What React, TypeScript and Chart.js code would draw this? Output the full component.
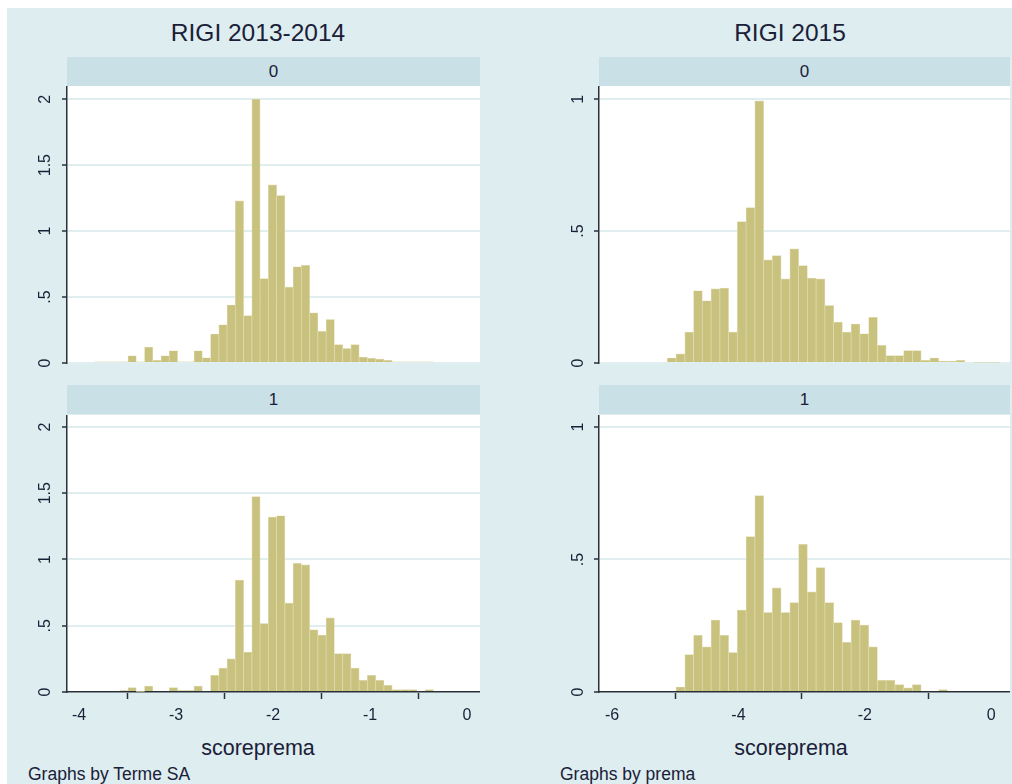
import React, { useEffect, useRef } from "react";
import { Chart, registerables } from "chart.js";

Chart.register(...registerables);

// ---------- data ----------
const panelTitles = ["RIGI 2013-2014", "RIGI 2015"];
const stripLabels = ["0", "1"];
const axisTitle = "scoreprema";
const notes = ["Graphs by Terme SA", "Graphs by prema"];

// RIGI 2013-2014 histogram bins (density)
const leftBinStart = -3.835;
const leftBinWidth = 0.0851;
const rigiA_prema0 = [
  0.008, 0.008, 0.008, 0.008, 0.055, 0.008, 0.12, 0.02, 0.055, 0.093, 0.008,
  0.008, 0.093, 0.04, 0.22, 0.29, 0.44, 1.23, 0.36, 2.0, 0.64, 1.35, 1.27,
  0.575, 0.73, 0.74, 0.38, 0.24, 0.33, 0.14, 0.11, 0.14, 0.045, 0.035, 0.03,
  0.02, 0.008, 0.008, 0.008, 0.008, 0.008,
];
const rigiA_prema1 = [
  0, 0, 0, 0.01, 0.033, 0.005, 0.044, 0, 0, 0.033, 0.01, 0.01, 0.044, 0,
  0.126, 0.18, 0.25, 0.845, 0.3, 1.475, 0.517, 1.32, 1.33, 0.67, 0.97, 0.96,
  0.47, 0.43, 0.56, 0.29, 0.29, 0.18, 0.088, 0.126, 0.088, 0.05, 0.018, 0.018,
  0.018, 0, 0.018,
];

// RIGI 2015 histogram bins (density)
const rightBinStart = -5.125;
const rightBinWidth = 0.1385;
const rigiB_prema0 = [
  0.019, 0.035, 0.117, 0.274, 0.236, 0.281, 0.284, 0.117, 0.536, 0.589, 0.994,
  0.391, 0.407, 0.319, 0.433, 0.369, 0.322, 0.319, 0.218, 0.155, 0.117, 0.148,
  0.111, 0.173, 0.067, 0.028, 0.028, 0.047, 0.047, 0.01, 0.019, 0.006, 0.006,
  0.01, 0, 0.003, 0.003, 0.003,
];
const rigiB_prema1 = [
  0, 0.019, 0.141, 0.214, 0.17, 0.271, 0.214, 0.149, 0.309, 0.586, 0.741, 0.3,
  0.393, 0.3, 0.337, 0.557, 0.378, 0.469, 0.337, 0.262, 0.187, 0.271, 0.252,
  0.17, 0.044, 0.044, 0.028, 0.016, 0.028, 0, 0, 0.009, 0, 0, 0, 0, 0, 0,
];

const leftXTicks = [-4, -3, -2, -1, 0];
const rightXTicks = [-6, -4, -2, 0];
const leftYTicks = [0, 0.5, 1, 1.5, 2];
const rightYTicks = [0, 0.5, 1];

// ---------- styles ----------
const BG = "#deedef";
const STRIP = "#c9e0e6";
const BAR = "#c9c27f";
const BAR_EDGE = "#e0dbb0";
const GRID = "#e1eef0";
const AXIS = "#2a3038";
const TEXT = "#1a2038";
const FONT = "'Liberation Sans', Arial, sans-serif";

const plotBg = {
  id: "plotBg",
  beforeDraw(chart: any) {
    const { ctx, chartArea: a } = chart;
    ctx.save();
    ctx.fillStyle = "#ffffff";
    ctx.fillRect(a.left, a.top, a.right - a.left, a.bottom - a.top);
    ctx.restore();
  },
};

const fmtY = (v: number) => String(v).replace(/^0\./, ".");

type PanelProps = {
  values: number[];
  binStart: number;
  binWidth: number;
  xMin: number;
  xMax: number;
  xTicks: number[];
  yMax: number;
  yTicks: number[];
  showX: boolean;
  left: number;
  top: number;
  width: number;
  height: number;
  yPad: number;
};

function Panel(p: PanelProps) {
  const ref = useRef<HTMLCanvasElement | null>(null);
  useEffect(() => {
    if (!ref.current) return;
    const data = p.values.map((v, i) => ({
      x: p.binStart + p.binWidth * (i + 0.5),
      y: v,
    }));
    const chart = new Chart(ref.current, {
      type: "bar",
      data: {
        datasets: [
          {
            data: data as any,
            backgroundColor: BAR,
            borderColor: BAR_EDGE,
            borderWidth: 0.7,
            borderSkipped: "start",
            barPercentage: 1,
            categoryPercentage: 1,
          },
        ],
      },
      options: {
        animation: false,
        responsive: false,
        maintainAspectRatio: false,
        layout: { padding: { top: 0, left: 0, right: 0, bottom: p.showX ? 0 : 8 } },
        plugins: {
          legend: { display: false },
          tooltip: { enabled: false },
          title: { display: false },
        },
        scales: {
          x: {
            type: "linear",
            display: p.showX,
            min: p.xMin,
            max: p.xMax,
            offset: false,
            afterBuildTicks: (s: any) => {
              s.ticks = p.xTicks.map((v) => ({ value: v }));
            },
            afterFit: (s: any) => {
              s.height = p.showX ? 40 : 0;
              s.paddingLeft = 0;
              s.paddingRight = 0;
            },
            grid: {
              drawOnChartArea: false,
              drawTicks: true,
              tickLength: 7,
              tickColor: AXIS,
              tickWidth: 1.5,
            },
            border: { display: true, color: AXIS, width: 1.5 },
            ticks: {
              color: TEXT,
              font: { family: FONT, size: 16 },
              padding: 7,
              maxRotation: 0,
              minRotation: 0,
              callback: (v: any) => String(v),
            },
          },
          y: {
            type: "linear",
            min: 0,
            max: p.yMax,
            afterBuildTicks: (s: any) => {
              s.ticks = p.yTicks.map((v) => ({ value: v }));
            },
            afterFit: (s: any) => {
              s.width = 47;
              s.paddingTop = 0;
              s.paddingBottom = 0;
            },
            grid: {
              color: GRID,
              lineWidth: 2,
              drawTicks: true,
              tickLength: 5,
              tickColor: AXIS,
              tickWidth: 1.5,
            },
            border: { display: true, color: AXIS, width: 1.5 },
            ticks: {
              color: TEXT,
              font: { family: FONT, size: 16 },
              minRotation: 90,
              maxRotation: 90,
              crossAlign: "center",
              padding: p.yPad,
              callback: (v: any) => fmtY(Number(v)),
            },
          },
        },
      },
      plugins: [plotBg],
    } as any);
    return () => chart.destroy();
  }, []);
  return (
    <canvas
      ref={ref}
      width={p.width}
      height={p.height}
      style={{
        position: "absolute",
        left: p.left,
        top: p.top,
        width: p.width,
        height: p.height,
      }}
    />
  );
}

function Text({
  x,
  y,
  size,
  children,
  align = "center",
}: {
  x: number;
  y: number;
  size: number;
  children: React.ReactNode;
  align?: "center" | "left";
}) {
  return (
    <div
      style={{
        position: "absolute",
        left: x,
        top: y,
        transform: align === "center" ? "translate(-50%, -50%)" : "translate(0, -50%)",
        fontFamily: FONT,
        fontSize: size,
        color: TEXT,
        whiteSpace: "nowrap",
        lineHeight: 1,
      }}
    >
      {children}
    </div>
  );
}

function Strip({ left, top, width, label }: { left: number; top: number; width: number; label: string }) {
  return (
    <div
      style={{
        position: "absolute",
        left,
        top,
        width,
        height: 29,
        background: STRIP,
        display: "flex",
        alignItems: "center",
        justifyContent: "center",
        fontFamily: FONT,
        fontSize: 17,
        color: TEXT,
      }}
    >
      {label}
    </div>
  );
}

export default function App() {
  const leftX = { xMin: -4.124, xMax: 0.134 };
  const rightX = { xMin: -6.206, xMax: 0.297 };
  return (
    <div
      style={{
        position: "absolute",
        left: 0,
        top: 0,
        width: 1012,
        height: 784,
        background: "#ffffff",
        overflow: "hidden",
      }}
    >
      <div style={{ position: "absolute", left: 7, top: 8, width: 1005, height: 776, background: BG }} />

      {/* titles */}
      <Text x={258} y={33} size={24.5}>{panelTitles[0]}</Text>
      <Text x={790} y={33} size={24.5}>{panelTitles[1]}</Text>

      {/* strips */}
      <Strip left={67} top={57} width={413} label={stripLabels[0]} />
      <Strip left={67} top={385} width={413} label={stripLabels[1]} />
      <Strip left={599} top={57} width={411} label={stripLabels[0]} />
      <Strip left={599} top={385} width={411} label={stripLabels[1]} />

      {/* panels */}
      <Panel values={rigiA_prema0} binStart={leftBinStart} binWidth={leftBinWidth} {...leftX}
        xTicks={leftXTicks} yMax={2.1} yTicks={leftYTicks} showX={false}
        left={20} top={86} width={460} height={285} yPad={5} />
      <Panel values={rigiA_prema1} binStart={leftBinStart} binWidth={leftBinWidth} {...leftX}
        xTicks={leftXTicks} yMax={2.09} yTicks={leftYTicks} showX={true}
        left={20} top={415} width={460} height={317} yPad={5} />
      <Panel values={rigiB_prema0} binStart={rightBinStart} binWidth={rightBinWidth} {...rightX}
        xTicks={rightXTicks} yMax={1.05} yTicks={rightYTicks} showX={false}
        left={552} top={86} width={458} height={285} yPad={9} />
      <Panel values={rigiB_prema1} binStart={rightBinStart} binWidth={rightBinWidth} {...rightX}
        xTicks={rightXTicks} yMax={1.045} yTicks={rightYTicks} showX={true}
        left={552} top={415} width={458} height={317} yPad={9} />

      {/* axis titles and notes */}
      <Text x={258} y={749} size={21.5}>{axisTitle}</Text>
      <Text x={791} y={749} size={21.5}>{axisTitle}</Text>
      <Text x={28} y={775} size={17.5} align="left">{notes[0]}</Text>
      <Text x={560} y={775} size={17.5} align="left">{notes[1]}</Text>
    </div>
  );
}
